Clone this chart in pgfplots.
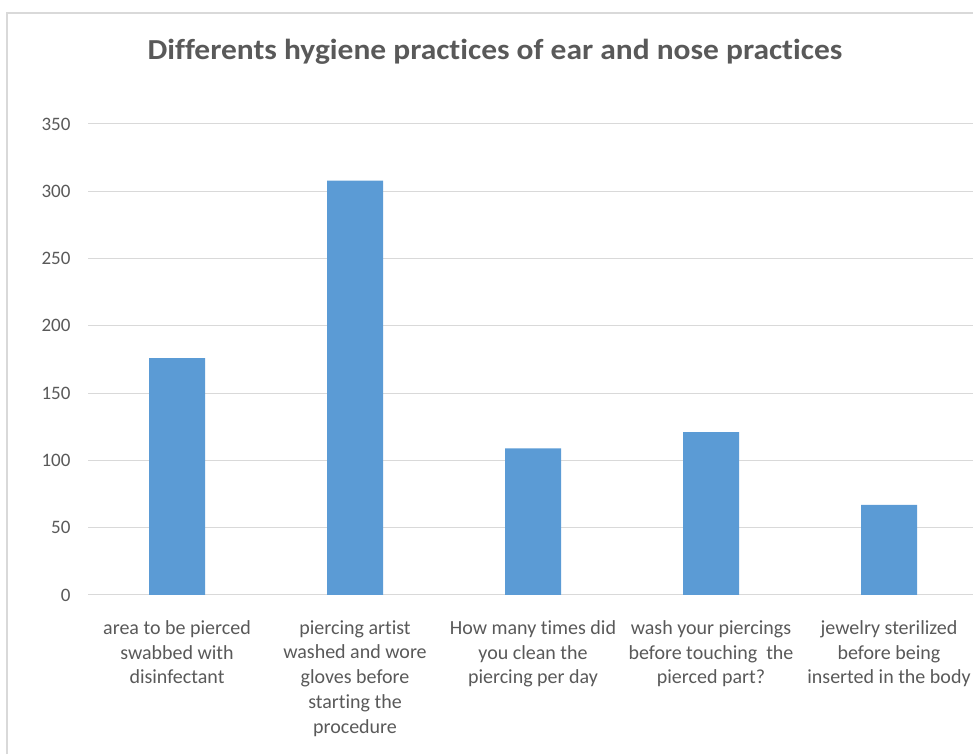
\documentclass[border=0pt]{standalone}
\usepackage{pgfplots}
\pgfplotsset{compat=1.18}
\usepackage{fontspec}
\setmainfont{Carlito}[Ligatures={NoCommon}]
\definecolor{barblue}{HTML}{5B9BD5}
\definecolor{gridgray}{HTML}{D9D9D9}
\definecolor{txtgray}{HTML}{595959}
\begin{document}
\begin{tikzpicture}[x=1pt,y=1pt]
\useasboundingbox (0,0) rectangle (973,754);
\draw[gridgray, line width=1.2pt] (7,0) -- (7,741) -- (973,741);
\node[txtgray, font=\fontsize{29}{34}\selectfont\bfseries] at (495,702) {\scalebox{1.085}[1]{Differents hygiene practices of ear and nose practices}};
\begin{axis}[
  at={(88pt,159pt)}, anchor=south west,
  scale only axis, width=885pt, height=471pt,
  xmin=-0.5, xmax=4.472, ymin=0, ymax=350,
  ytick={0,50,...,350},
  xtick={0,1,2,3,4},
  xticklabels={{area to be pierced\\swabbed with\\disinfectant},
    {piercing artist\\washed and wore\\gloves before\\starting the\\procedure},
    {How many times did\\you clean the\\piercing per day},
    {wash your piercings\\before touching\ \ the\\pierced part?},
    {jewelry sterilized\\before being\\inserted in the body}},
  xticklabel style={align=center, anchor=north, yshift=-22pt, text=txtgray,
    font=\fontsize{20}{24.7}\selectfont},
  yticklabel style={text=txtgray, font=\fontsize{19}{23}\selectfont, xshift=-14pt},
  /pgf/number format/assume math mode=true,
  axis line style={draw=none},
  major tick style={draw=none},
  ymajorgrids, grid style={gridgray, line width=1pt},
  clip=false,
]
\addplot[ybar, bar width=56pt, fill=barblue, draw=none] coordinates {(0,176) (1,308) (2,109) (3,121) (4,67)};
\end{axis}
\end{tikzpicture}
\end{document}
